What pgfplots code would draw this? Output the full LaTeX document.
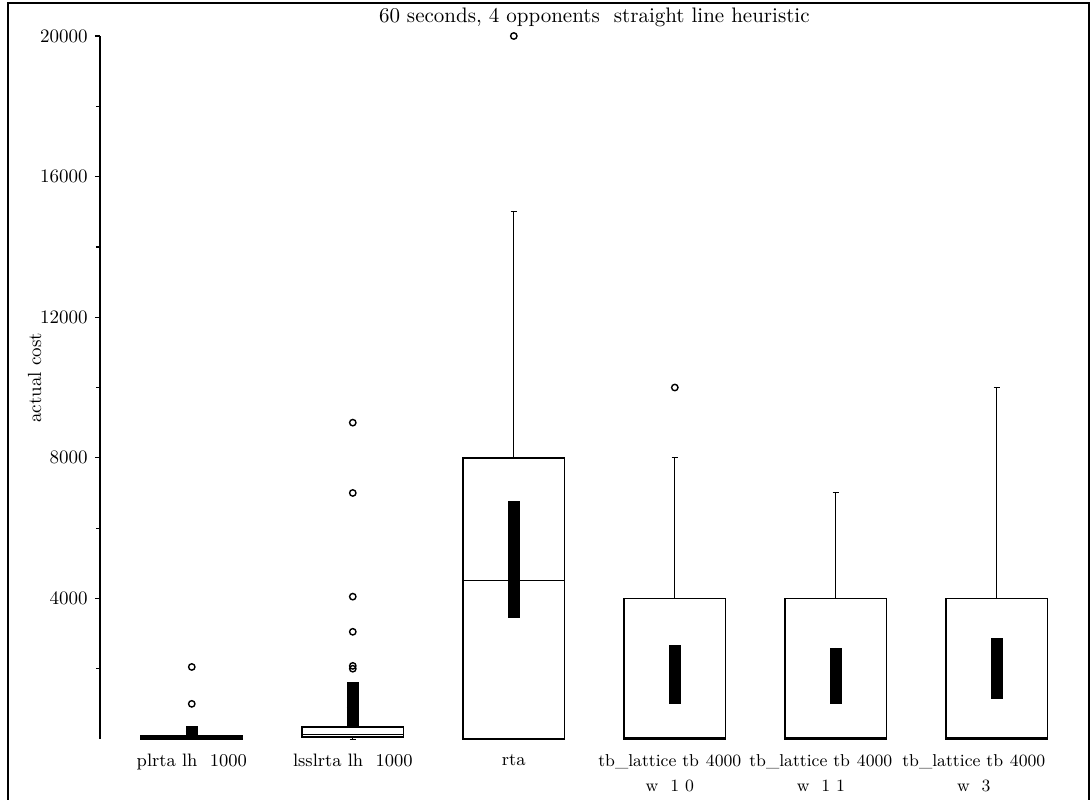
\documentclass[border=0pt]{standalone}
\usepackage{pgfplots}
\pgfplotsset{compat=1.18}
\usepgfplotslibrary{statistics}
\newcommand\tbl[2]{\hspace*{#1}{\fontsize{8.6}{12.5}\selectfont tb\_lattice tb\hspace{0.4em}4000}\\\hspace*{#1}{\fontsize{8.6}{12.5}\selectfont w\ \ #2}}
\begin{document}
\begin{tikzpicture}[font=\fontsize{9.5}{11.5}\selectfont]
\path[use as bounding box] (-50pt,-30pt) rectangle (495.5pt,369.5pt);
\begin{axis}[
  at={(0pt,0pt)}, anchor=south west,
  scale only axis, width=494.3pt, height=351.5pt,
  xmin=-0.57, xmax=5.57, ymin=0, ymax=20000,
  axis y line*=left, axis x line*=bottom,
  x axis line style={draw=none},
  y axis line style={line width=0.9pt,-},
  xtick={0,1,2,3,4,5},
  xticklabels={{plrta lh\ \ 1000},{lsslrta lh\ \ 1000},{rta},
    {\tbl{-5pt}{1 0}},
    {\tbl{-15pt}{1 1}},
    {\tbl{-23pt}{3}}},
  xticklabel style={align=center, font=\fontsize{9}{12.5}\selectfont, yshift=-1.5pt},
  xtick style={draw=none},
  ytick={4000,8000,12000,16000,20000},
  minor ytick={2000,6000,10000,14000,18000},
  scaled y ticks=false,
  /pgf/number format/set thousands separator={},
  /pgf/number format/assume math mode=true,
  tick align=outside,
  major tick length=2.6pt, minor tick length=2pt,
  ytick style={line width=0.6pt, black},
  clip=false,
  title={60 seconds, 4 opponents\ \ straight line heuristic},
  title style={at={(0.5,1)}, anchor=base, yshift=1pt, inner sep=0pt, font=\fontsize{10.5}{12}\selectfont},
  ylabel={actual cost},
  ylabel style={at={(axis description cs:-0.066,0.514)}, anchor=center},
  boxplot/draw direction=y,
  boxplot/every whisker/.style={line width=0.5pt},
  boxplot/every median/.style={line width=0.6pt},
]
% main boxes
\addplot[black, fill=white, line width=1pt, mark=o, mark size=1.6pt, mark options={line width=0.7pt},
  boxplot prepared={draw position=0, lower whisker=0, lower quartile=0, median=50, upper quartile=80, upper whisker=200, box extend=0.63, whisker extend=0.04}]
  coordinates {(0,2050) (0,1000)};
\addplot[black, fill=black, boxplot prepared={draw position=0, lower whisker=50, lower quartile=50, median=200, upper quartile=360, upper whisker=360, box extend=0.072, whisker extend=0}] coordinates {};

\addplot[black, fill=white, line width=0.8pt, mark=o, mark size=1.6pt, mark options={line width=0.7pt},
  boxplot prepared={draw position=1, lower whisker=0, lower quartile=60, median=120, upper quartile=350, upper whisker=900, box extend=0.63, whisker extend=0.04}]
  coordinates {(1,9000) (1,7000) (1,4050) (1,3050) (1,2000) (1,2080)};
\addplot[black, fill=black, boxplot prepared={draw position=1, lower whisker=340, lower quartile=340, median=900, upper quartile=1620, upper whisker=1620, box extend=0.072, whisker extend=0}] coordinates {};

\addplot[black, fill=white, line width=0.8pt, mark=o, mark size=1.6pt, mark options={line width=0.7pt},
  boxplot prepared={draw position=2, lower whisker=0, lower quartile=0, median=4500, upper quartile=8000, upper whisker=15000, box extend=0.63, whisker extend=0.04}]
  coordinates {(2,20000)};
\addplot[black, fill=black, boxplot prepared={draw position=2, lower whisker=3450, lower quartile=3450, median=5000, upper quartile=6750, upper whisker=6750, box extend=0.072, whisker extend=0}] coordinates {};

\addplot[black, fill=white, line width=0.8pt, mark=o, mark size=1.6pt, mark options={line width=0.7pt},
  boxplot prepared={draw position=3, lower whisker=0, lower quartile=0, median=40, upper quartile=4000, upper whisker=8000, box extend=0.63, whisker extend=0.04}]
  coordinates {(3,10000)};
\addplot[black, fill=black, boxplot prepared={draw position=3, lower whisker=1020, lower quartile=1020, median=1800, upper quartile=2670, upper whisker=2670, box extend=0.072, whisker extend=0}] coordinates {};

\addplot[black, fill=white, line width=0.8pt, mark=o, mark size=1.6pt, mark options={line width=0.7pt},
  boxplot prepared={draw position=4, lower whisker=0, lower quartile=0, median=40, upper quartile=4000, upper whisker=7000, box extend=0.63, whisker extend=0.04}]
  coordinates {};
\addplot[black, fill=black, boxplot prepared={draw position=4, lower whisker=1000, lower quartile=1000, median=1800, upper quartile=2590, upper whisker=2590, box extend=0.072, whisker extend=0}] coordinates {};

\addplot[black, fill=white, line width=0.8pt, mark=o, mark size=1.6pt, mark options={line width=0.7pt},
  boxplot prepared={draw position=5, lower whisker=0, lower quartile=0, median=40, upper quartile=4000, upper whisker=10000, box extend=0.63, whisker extend=0.04}]
  coordinates {};
\addplot[black, fill=black, boxplot prepared={draw position=5, lower whisker=1160, lower quartile=1160, median=2000, upper quartile=2870, upper whisker=2870, box extend=0.072, whisker extend=0}] coordinates {};
\end{axis}
\draw[line width=0.7pt] (-46pt,-31pt) -- (-46pt,368pt) -- (494.5pt,368pt) -- (494.5pt,-31pt);
\end{tikzpicture}
\end{document}
